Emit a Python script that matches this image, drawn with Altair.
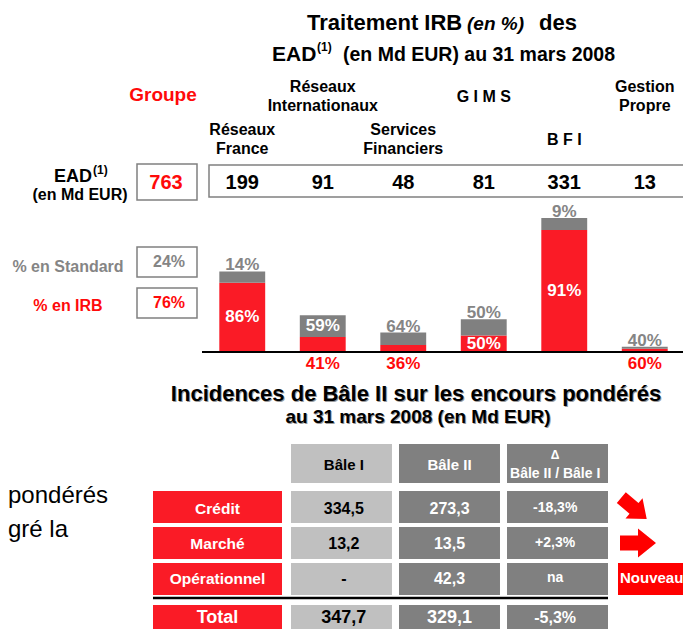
import altair as alt

# ------------------------------------------------------------------ data
segments = ["Réseaux France", "Réseaux Internationaux", "Services Financiers",
            "GIMS", "BFI", "Gestion Propre"]
segment_lines = ["Réseaux\nFrance", "Réseaux\nInternationaux", "Services\nFinanciers",
                 "G I M S", "B F I", "Gestion\nPropre"]
ead = [199, 91, 48, 81, 331, 13]            # Md EUR
pct_irb = [86, 41, 36, 50, 91, 60]          # % en IRB
pct_std = [14, 59, 64, 50, 9, 40]           # % en Standard

group_label = "Groupe"
group_ead = 763
group_std = 24
group_irb = 76

title_1 = ["Traitement IRB", "(en %)", "des"]
title_2 = ["EAD", "(1)", "(en Md EUR) au 31 mars 2008"]
ead_label = ["EAD", "(1)", "(en Md EUR)"]
std_label = "% en Standard"
irb_label = "% en IRB"

table_title = ["Incidences de Bâle II sur les encours pondérés",
               "au 31 mars 2008 (en Md EUR)"]
table_rows = ["Crédit", "Marché", "Opérationnel"]
table_cols = ["Bâle I", "Bâle II", "Δ"]
delta_sub = "Bâle II / Bâle I"
bale1 = [334.5, 13.2, None]
bale2 = [273.3, 13.5, 42.3]
delta_pct = [-18.3, 2.3, None]
total_label = "Total"
total_vals = [347.7, 329.1, -5.3]
new_label = "Nouveau"
side_text = ["pondérés", "gré la"]

# ------------------------------------------------------------------ style
FONT = "Liberation Sans"
RED = "#FA1B26"
RED_TXT = "#FF0A0A"
PURE_RED = "#FF0000"
GRAY = "#808080"
GRAY_TXT = "#858585"
LIGHT = "#C0C0C0"
ARROW = "M-1,-0.42L0,-0.42L0,-0.8L1,0L0,0.8L0,0.42L-1,0.42Z"


def fr_num(v):
    return "-" if v is None else f"{v:.1f}".replace(".", ",")


def fr_pct(v):
    return "na" if v is None else f"{v:+.1f}%".replace(".", ",")


ONE = alt.Data(values=[{"k": 0}])


def txt(t, x, y, size, color="black", align="left", weight="bold",
        style="normal", baseline="alphabetic", dx=0, dy=0):
    return alt.Chart(ONE).mark_text(
        text=t, font=FONT, fontSize=size, fontWeight=weight, fontStyle=style,
        color=color, align=align, baseline=baseline, dx=dx, dy=dy
    ).encode(x=alt.value(x), y=alt.value(y))


def box(x, x2, y, y2, fill="white", stroke=GRAY, sw=1.5):
    return alt.Chart(ONE).mark_rect(fill=fill, stroke=stroke, strokeWidth=sw).encode(
        x=alt.value(x), x2=alt.value(x2), y=alt.value(y), y2=alt.value(y2))


# ------------------------------------------------------------------ scales
X_SEG = alt.Scale(domain=segments, range=[194, 677], paddingInner=0.43, paddingOuter=0.215)
Y_BAR = alt.Scale(domain=[0, max(ead)], range=[344, 210])
Y_LEVEL = alt.Scale(type="point", domain=["haut", "bas"], range=[89, 132], padding=0)

X_TAB = alt.Scale(domain=table_cols, range=[283, 600], paddingInner=0.065, paddingOuter=0)
X_LAB = alt.Scale(domain=["libellé"], range=[145, 274], padding=0)
Y_ROWS = alt.Scale(domain=table_rows, range=[483, 587], paddingInner=0.111, paddingOuter=0)
Y_HEAD = alt.Scale(domain=["entête"], range=[436, 475], padding=0)
Y_TOT = alt.Scale(domain=[total_label], range=[597, 640], padding=0)
X_NEW = alt.Scale(domain=["nouveau"], range=[610, 700], padding=0)

layers = []

# ------------------------------------------------------------------ titles
layers += [
    txt(title_1[0], 299, 22, 22),
    txt(title_1[1], 459, 22, 19, style="italic"),
    txt(title_1[2], 531, 22, 22),
    txt(title_2[0], 264, 53, 21),
    txt(title_2[1], 309, 43, 12),
    txt(title_2[2], 335, 53, 19.5),
]

# left side fragments
layers += [
    txt(side_text[0], 0, 495, 24, weight="normal"),
    txt(side_text[1], 0, 529, 24, weight="normal"),
]

# group column and row headers
layers += [
    txt(group_label, 155, 93, 19, color=RED_TXT, align="center"),
    box(129, 189, 156, 192),
    box(201, 720, 157, 189),
    txt(str(group_ead), 158, 181, 20, color=RED_TXT, align="center"),
    txt(ead_label[0], 84, 174, 18, align="right"),
    txt(ead_label[1], 85, 166, 12),
    txt(ead_label[2], 72, 192, 16, align="center"),
    txt(std_label, 60, 264, 16, color=GRAY_TXT, align="center"),
    txt(irb_label, 60, 303, 16, color=RED_TXT, align="center"),
    box(129, 189, 239, 269),
    box(129, 189, 280, 310),
    txt(f"{group_std}%", 161, 259, 16, color=GRAY_TXT, align="center"),
    txt(f"{group_irb}%", 161, 300, 16, color=RED_TXT, align="center"),
]

# ------------------------------------------------------------------ segments
seg_records = [
    {"segment": s, "label": l, "ead": e, "irb_pct": i, "std_pct": p,
     "level": "bas" if k % 2 == 0 else "haut"}
    for k, (s, l, e, i, p) in enumerate(zip(segments, segment_lines, ead, pct_irb, pct_std))
]
seg = alt.Chart(alt.Data(values=seg_records)).transform_calculate(
    irb="datum.ead * datum.irb_pct / 100",
    std="datum.ead * datum.std_pct / 100",
    zero="0",
    std_txt="datum.std_pct + '%'",
    irb_txt="datum.irb_pct + '%'",
)
xs = alt.X("segment:N", scale=X_SEG, axis=None)
ylev = alt.Y("level:N", scale=Y_LEVEL, axis=None)
lab_font = dict(font=FONT, fontSize=16, fontWeight="bold", lineBreak="\n",
                lineHeight=19, baseline="middle", color="black")
layers.append(seg.transform_filter("indexof(datum.label, '\\n') >= 0").mark_text(
    dy=-10, **lab_font).encode(x=xs, y=ylev, text="label:N"))
layers.append(seg.transform_filter("indexof(datum.label, '\\n') < 0").mark_text(
    **lab_font).encode(x=xs, y=ylev, text="label:N"))
layers.append(seg.mark_text(font=FONT, fontSize=20, fontWeight="bold", color="black",
                            baseline="alphabetic").encode(
    x=xs, y=alt.value(181), text="ead:Q"))

layers.append(seg.mark_bar(color=RED).encode(
    x=xs, y=alt.Y("irb:Q", scale=Y_BAR, axis=None)))
layers.append(seg.mark_bar(color=GRAY).encode(
    x=xs, y=alt.Y("irb:Q", scale=Y_BAR, axis=None), y2="ead:Q"))
layers.append(seg.mark_rule(color="black", strokeWidth=1.5).encode(
    x=alt.value(194), x2=alt.value(677), y=alt.Y("zero:Q", scale=Y_BAR, axis=None)))

pf = dict(font=FONT, fontSize=17, fontWeight="bold")
lab = seg.transform_calculate(std_mid="datum.irb + datum.std / 2", irb_mid="datum.irb / 2")
layers.append(lab.transform_filter("datum.std < 50").mark_text(
    color=GRAY_TXT, baseline="alphabetic", dy=-1, **pf).encode(
    x=xs, y=alt.Y("ead:Q", scale=Y_BAR, axis=None), text="std_txt:N"))
layers.append(lab.transform_filter("datum.std >= 50").mark_text(
    color="white", baseline="middle", **pf).encode(
    x=xs, y=alt.Y("std_mid:Q", scale=Y_BAR, axis=None), text="std_txt:N"))
layers.append(lab.transform_filter("datum.irb >= 40").mark_text(
    color="white", baseline="middle", **pf).encode(
    x=xs, y=alt.Y("irb_mid:Q", scale=Y_BAR, axis=None), text="irb_txt:N"))
layers.append(lab.transform_filter("datum.irb < 40").mark_text(
    color=RED_TXT, baseline="top", dy=4, **pf).encode(
    x=xs, y=alt.Y("zero:Q", scale=Y_BAR, axis=None), text="irb_txt:N"))

# ------------------------------------------------------------------ table title
for dxy, col in [(1, "#9A9A9A"), (0, "black")]:
    layers.append(txt(table_title[0], 408, 393, 22, align="center", color=col, dx=dxy, dy=dxy))
    layers.append(txt(table_title[1], 410, 415, 19, align="center", color=col, dx=dxy, dy=dxy))

# ------------------------------------------------------------------ table
head_records = [{"col": c, "h": "entête"} for c in table_cols]
head = alt.Chart(alt.Data(values=head_records))
xt = alt.X("col:N", scale=X_TAB, axis=None)
yh = alt.Y("h:N", scale=Y_HEAD, axis=None)
layers.append(head.transform_filter("datum.col == 'Bâle I'").mark_rect(fill=LIGHT).encode(x=xt, y=yh))
layers.append(head.transform_filter("datum.col != 'Bâle I'").mark_rect(fill=GRAY).encode(x=xt, y=yh))
layers.append(head.transform_filter("datum.col == 'Bâle I'").mark_text(
    font=FONT, fontSize=15, fontWeight="bold", color="black", baseline="middle", dy=1).encode(
    x=xt, y=yh, text="col:N"))
layers.append(head.transform_filter("datum.col == 'Bâle II'").mark_text(
    font=FONT, fontSize=15, fontWeight="bold", color="white", baseline="middle", dy=1).encode(
    x=xt, y=yh, text="col:N"))
layers.append(head.transform_filter("datum.col == 'Δ'").mark_text(
    font=FONT, fontSize=12, fontWeight="bold", color="white", baseline="alphabetic", dy=-5).encode(
    x=xt, y=yh, text="col:N"))
layers.append(head.transform_filter("datum.col == 'Δ'").mark_text(
    text=delta_sub, font=FONT, fontSize=14, fontWeight="bold", color="white",
    baseline="alphabetic", dy=14).encode(x=xt, y=yh))

cell_records = []
for r, b1, b2, d in zip(table_rows, bale1, bale2, delta_pct):
    cell_records += [
        {"row": r, "col": "Bâle I", "txt": fr_num(b1), "lab": "libellé"},
        {"row": r, "col": "Bâle II", "txt": fr_num(b2), "lab": "libellé"},
        {"row": r, "col": "Δ", "txt": fr_pct(d), "lab": "libellé"},
    ]
cells = alt.Chart(alt.Data(values=cell_records))
yr = alt.Y("row:N", scale=Y_ROWS, axis=None)
xl = alt.X("lab:N", scale=X_LAB, axis=None)

rows_lab = cells.transform_filter("datum.col == 'Bâle I'")
layers.append(rows_lab.mark_rect(fill=RED).encode(x=xl, y=yr))
layers.append(rows_lab.mark_text(font=FONT, fontSize=15.5, fontWeight="bold", color="white",
                                 baseline="middle", dy=1).encode(x=xl, y=yr, text="row:N"))
layers.append(cells.transform_filter("datum.col == 'Bâle I'").mark_rect(fill=LIGHT).encode(x=xt, y=yr))
layers.append(cells.transform_filter("datum.col != 'Bâle I'").mark_rect(fill=GRAY).encode(x=xt, y=yr))
layers.append(cells.transform_filter("datum.col == 'Bâle I'").mark_text(
    font=FONT, fontSize=16, fontWeight="bold", color="black", baseline="middle", dy=1).encode(
    x=xt, y=yr, text="txt:N"))
layers.append(cells.transform_filter("datum.col == 'Bâle II'").mark_text(
    font=FONT, fontSize=16, fontWeight="bold", color="white", baseline="middle", dy=1).encode(
    x=xt, y=yr, text="txt:N"))
layers.append(cells.transform_filter("datum.col == 'Δ'").mark_text(
    font=FONT, fontSize=14, fontWeight="bold", color="white", baseline="middle", dy=0).encode(
    x=xt, y=yr, text="txt:N"))

# arrows and "Nouveau"
layers.append(cells.transform_filter("datum.col == 'Bâle I' && datum.row == 'Crédit'").mark_point(
    shape=ARROW, filled=True, fill=PURE_RED, strokeWidth=0, opacity=1, size=1100, angle=40).encode(
    x=alt.value(626), y=yr))
layers.append(cells.transform_filter("datum.col == 'Bâle I' && datum.row == 'Marché'").mark_point(
    shape=ARROW, filled=True, fill=PURE_RED, strokeWidth=0, opacity=1, size=1296).encode(
    x=alt.value(630), y=yr))
new = cells.transform_filter("datum.col == 'Bâle I' && datum.row == 'Opérationnel'").transform_calculate(
    n="'nouveau'")
xn = alt.X("n:N", scale=X_NEW, axis=None)
layers.append(new.mark_rect(fill=PURE_RED).encode(x=xn, y=yr))
layers.append(new.mark_text(text=new_label, font=FONT, fontSize=15, fontWeight="bold",
                            color="white", align="left", baseline="middle", dx=2).encode(
    x=alt.value(610), y=yr))

# separator and total row
layers.append(alt.Chart(ONE).mark_rule(color="black", strokeWidth=2.5).encode(
    x=alt.value(145), x2=alt.value(600), y=alt.value(590)))
tot_records = [{"t": total_label, "lab": "libellé", "col": c, "txt": v}
               for c, v in zip(table_cols, [fr_num(total_vals[0]), fr_num(total_vals[1]),
                                            fr_pct(total_vals[2])])]
tot = alt.Chart(alt.Data(values=tot_records))
yt = alt.Y("t:N", scale=Y_TOT, axis=None)
tb = dict(font=FONT, fontWeight="bold", baseline="alphabetic", dy=-4)
layers.append(tot.transform_filter("datum.col == 'Bâle I'").mark_rect(fill=RED).encode(x=xl, y=yt))
layers.append(tot.transform_filter("datum.col == 'Bâle I'").mark_text(
    fontSize=18, color="white", **tb).encode(x=xl, y=yt, text="t:N"))
layers.append(tot.transform_filter("datum.col == 'Bâle I'").mark_rect(fill=LIGHT).encode(x=xt, y=yt))
layers.append(tot.transform_filter("datum.col != 'Bâle I'").mark_rect(fill=GRAY).encode(x=xt, y=yt))
layers.append(tot.transform_filter("datum.col == 'Bâle I'").mark_text(
    fontSize=18, color="black", **tb).encode(x=xt, y=yt, text="txt:N"))
layers.append(tot.transform_filter("datum.col == 'Bâle II'").mark_text(
    fontSize=18, color="white", **tb).encode(x=xt, y=yt, text="txt:N"))
layers.append(tot.transform_filter("datum.col == 'Δ'").mark_text(
    fontSize=16, color="white", **tb).encode(x=xt, y=yt, text="txt:N"))

chart = alt.layer(*layers).resolve_scale(
    x="independent", y="independent"
).properties(
    width=675, height=621, padding=0,
    autosize=alt.AutoSizeParams(type="none"), background="white"
).configure_view(strokeWidth=0)

chart.save("out.html", embed_options={"renderer": "svg", "actions": False})
